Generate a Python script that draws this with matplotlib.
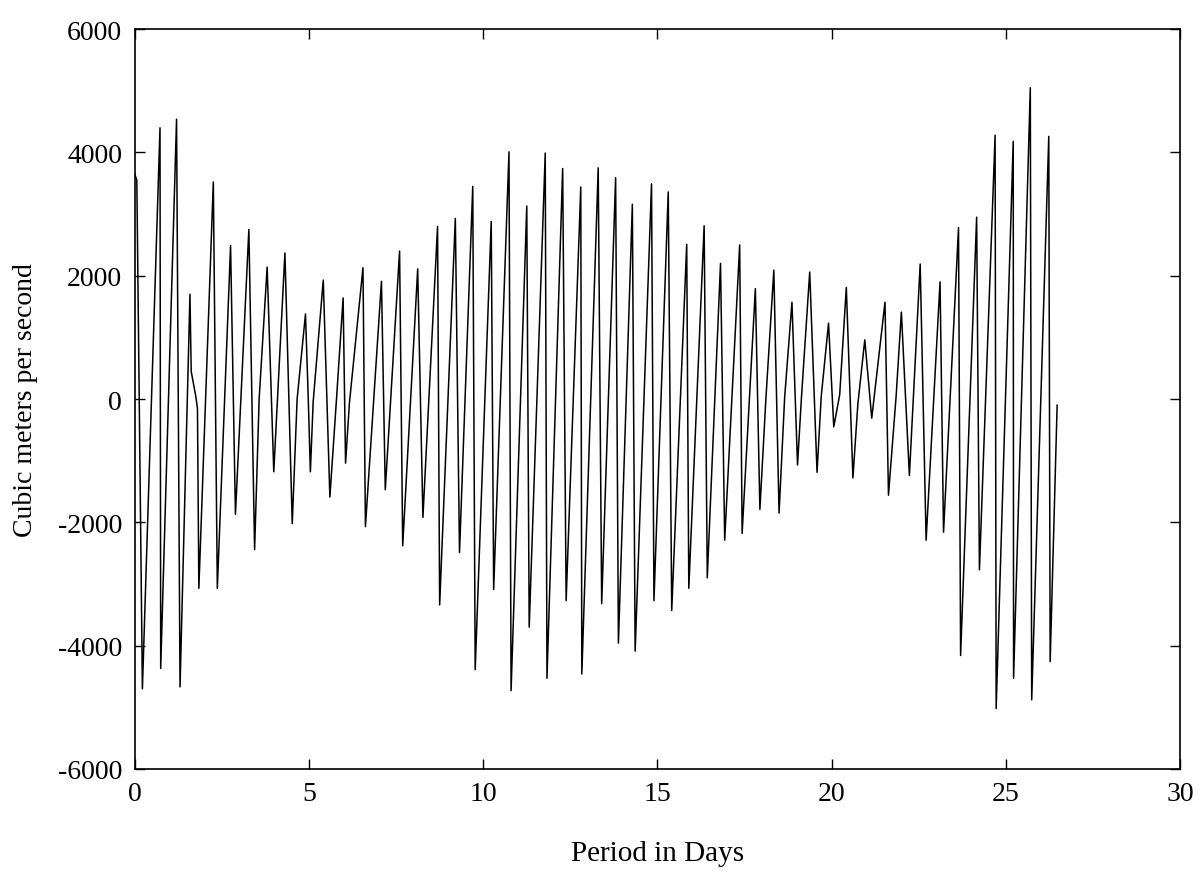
import matplotlib
matplotlib.use("Agg")
import matplotlib.pyplot as plt

# turning points of the flow record (day, m3/s)
days = [0.00, 0.06, 0.22, 0.725, 0.745, 1.20, 1.30, 1.585, 1.62, 1.75, 1.80, 1.84,
        2.255, 2.37, 2.75, 2.89, 3.275, 3.44, 3.57, 3.80, 3.99, 4.31, 4.52, 4.66,
        4.90, 4.98, 5.04, 5.12, 5.41, 5.60, 5.79, 5.98, 6.05, 6.16, 6.55, 6.62,
        7.08, 7.19, 7.60, 7.69, 8.12, 8.27, 8.69, 8.75, 9.20, 9.32, 9.70, 9.77,
        10.23, 10.30, 10.74, 10.80, 11.25, 11.32, 11.78, 11.83, 12.28, 12.38,
        12.80, 12.83, 13.30, 13.40, 13.80, 13.88, 14.28, 14.36, 14.83, 14.90,
        15.31, 15.41, 15.84, 15.90, 16.34, 16.43, 16.81, 16.93, 17.36, 17.43,
        17.81, 17.94, 18.11, 18.34, 18.49, 18.65, 18.86, 19.02, 19.13, 19.37,
        19.58, 19.70, 19.91, 20.06, 20.23, 20.42, 20.61, 20.75, 20.95, 21.15,
        21.53, 21.63, 21.85, 22.00, 22.23, 22.54, 22.71, 23.11, 23.21, 23.64,
        23.70, 24.16, 24.24, 24.69, 24.72, 25.21, 25.22, 25.70, 25.74, 26.23,
        26.27, 26.47]
flow = [3650, 3550, -4700, 4400, -4370, 4540, -4670, 1700, 450, 50, -150, -3070,
        3520, -3070, 2490, -1870, 2750, -2440, 0, 2140, -1180, 2370, -2020, 0,
        1380, 0, -1180, -50, 1930, -1590, 0, 1640, -1040, -70, 2130, -2070,
        1910, -1470, 2400, -2380, 2110, -1920, 2800, -3340, 2930, -2490, 3450, -4390,
        2880, -3090, 4010, -4730, 3130, -3700, 3990, -4530, 3740, -3270,
        3440, -4460, 3750, -3320, 3590, -3960, 3160, -4090, 3490, -3270,
        3360, -3430, 2510, -3070, 2810, -2900, 2200, -2290, 2500, -2180,
        1790, -1790, -20, 2090, -1850, 20, 1570, -1070, 0, 2060,
        -1190, 40, 1230, -450, 70, 1810, -1280, -90, 960, -310,
        1570, -1560, 50, 1410, -1240, 2190, -2290, 1900, -2160, 2780,
        -4160, 2950, -2770, 4280, -5020, 4180, -4530, 5050, -4880, 4260,
        -4260, -100]

xticks = [0, 5, 10, 15, 20, 25, 30]
yticks = [-6000, -4000, -2000, 0, 2000, 4000, 6000]

plt.rcParams['font.family'] = ['Liberation Serif', 'DejaVu Serif']
plt.rcParams['axes.unicode_minus'] = False

fig = plt.figure(figsize=(12.03, 8.87), dpi=100)
ax = fig.add_axes([0.112, 0.132, 0.869, 0.834])
ax.plot(days, flow, color="black", linewidth=1.1)

ax.set_xlim(0, 30)
ax.set_ylim(-6000, 6000)
ax.set_xticks(xticks)
ax.set_yticks(yticks)
ax.tick_params(direction="in", length=7, width=1, labelsize=20,
               top=True, right=True, pad=9)
for s in ax.spines.values():
    s.set_linewidth(1.2)

ax.set_xlabel("Period in Days", fontsize=21, labelpad=24)
ax.set_ylabel("Cubic meters per second", fontsize=20, labelpad=14)

fig.savefig("out.png", dpi=100)
